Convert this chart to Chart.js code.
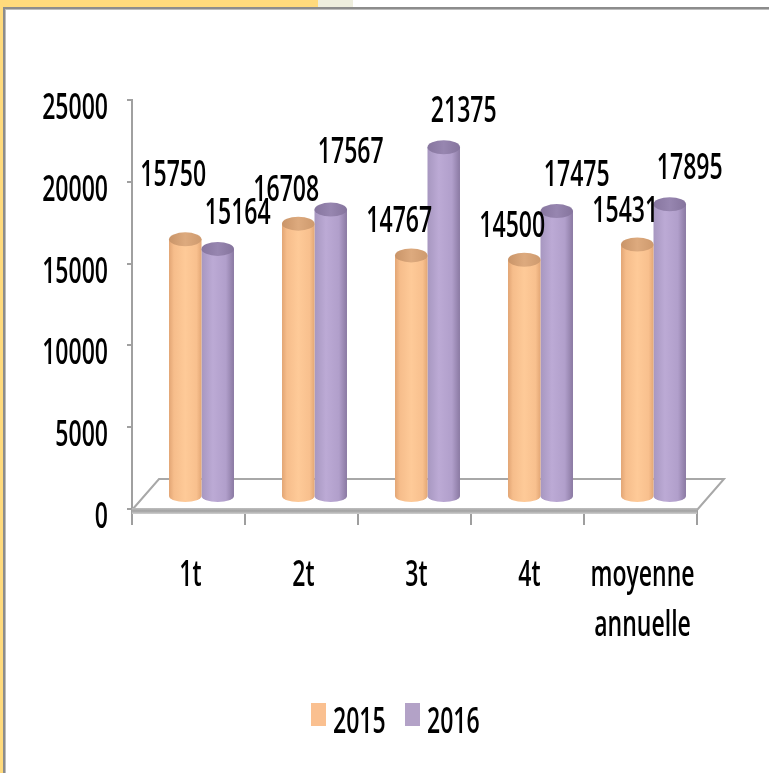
<!DOCTYPE html>
<html><head><meta charset="utf-8">
<script src="https://cdn.jsdelivr.net/npm/chart.js@4.4.1/dist/chart.umd.min.js"></script>
<style>
html,body{margin:0;padding:0;width:769px;height:773px;overflow:hidden;background:#fff;}
.d{position:absolute;}
#c{position:absolute;left:0;top:0;}
</style></head><body>
<div class="d" style="left:0;top:0;width:318px;height:7px;background:#FFDA7C"></div>
<div class="d" style="left:318px;top:0;width:35px;height:7px;background:#EEEEDE"></div>
<div class="d" style="left:0;top:0;width:3px;height:773px;background:#FFDA7C"></div>
<div class="d" style="left:3px;top:7px;width:766px;height:2px;background:#8C8C8C"></div>
<div class="d" style="left:3px;top:9px;width:766px;height:1px;background:#BDBDBD"></div>
<div class="d" style="left:3px;top:7px;width:2px;height:766px;background:#8C8C8C"></div>
<div class="d" style="left:5px;top:9px;width:1px;height:764px;background:#BDBDBD"></div>
<canvas id="c" width="769" height="773"></canvas>
<script>
const categories = [['1t'], ['2t'], ['3t'], ['4t'], ['moyenne', 'annuelle']];
const seriesNames = ['2015', '2016'];
const values2015 = [15750, 16708, 14767, 14500, 15431];
const values2016 = [15164, 17567, 21375, 17475, 17895];
const yMin = 0, yMax = 25000, yStep = 5000;

const FONT = '"Open Sans", "Liberation Sans", sans-serif';
const FW = '600';
const SX = 0.64;
const FS = 36;
const TX = 13, TY = -12; // perspective shift of the bars
const legendColors = ['#FAC090', '#B3A2C7'];

function txt(ctx, s, x, y, align) {
  ctx.save();
  ctx.translate(x, y);
  ctx.scale(SX, 1);
  ctx.font = FW + ' ' + FS + 'px ' + FONT;
  ctx.textAlign = align;
  ctx.textBaseline = 'alphabetic';
  ctx.fillStyle = '#000';
  ctx.fillText(s, 0, 0);
  ctx.restore();
}
function tw(ctx, s) {
  ctx.save();
  ctx.font = FW + ' ' + FS + 'px ' + FONT;
  const w = ctx.measureText(s).width * SX;
  ctx.restore();
  return w;
}

function sideGrad(ctx, el, di) {
  const l = el.x - el.width / 2, r = el.x + el.width / 2;
  const g = ctx.createLinearGradient(l, 0, r, 0);
  if (di === 0) {
    g.addColorStop(0, '#E2A574');
    g.addColorStop(0.15, '#F6BD8B');
    g.addColorStop(0.5, '#FECA98');
    g.addColorStop(0.85, '#F8C08E');
    g.addColorStop(1, '#E3A775');
  } else {
    g.addColorStop(0, '#A797C0');
    g.addColorStop(0.35, '#BCAAD5');
    g.addColorStop(0.75, '#B19FCB');
    g.addColorStop(1, '#8A79A2');
  }
  return g;
}
function topGrad(ctx, el, di) {
  const l = el.x - el.width / 2, r = el.x + el.width / 2;
  const g = ctx.createLinearGradient(l, 0, r, 0);
  if (di === 0) {
    g.addColorStop(0, '#C99468');
    g.addColorStop(0.5, '#DDAA7E');
    g.addColorStop(1, '#CE9A6E');
  } else {
    g.addColorStop(0, '#87769F');
    g.addColorStop(0.5, '#9786B0');
    g.addColorStop(1, '#85749D');
  }
  return g;
}

const deco = {
  id: 'deco',
  beforeDatasetsDraw(chart) {
    const ctx = chart.ctx, ca = chart.chartArea;
    const y0 = chart.scales.y.getPixelForValue(0);
    const L = ca.left, R = ca.right, dx = 27, dy = -30;
    ctx.save();
    ctx.strokeStyle = '#A8A8A8';
    ctx.lineWidth = 2;
    ctx.beginPath();
    ctx.moveTo(L, y0 + 1);
    ctx.lineTo(L + dx, y0 + dy);
    ctx.lineTo(R + dx, y0 + dy);
    ctx.lineTo(R, y0 + 1);
    ctx.stroke();
    const fg = ctx.createLinearGradient(0, y0 - 1, 0, y0 + 5);
    fg.addColorStop(0, '#BEBEBE');
    fg.addColorStop(0.5, '#A2A2A2');
    fg.addColorStop(1, '#D0D0D0');
    ctx.fillStyle = fg;
    ctx.fillRect(L, y0 - 1, R - L, 6);
    ctx.restore();
    chart.data.datasets.forEach((ds, di) => {
      chart.getDatasetMeta(di).data.forEach(el => {
        el.options = Object.assign({}, el.options, { backgroundColor: sideGrad(ctx, el, di) });
      });
    });
    ctx.save();
    ctx.translate(TX, TY);
  },
  afterDatasetsDraw(chart) {
    const ctx = chart.ctx;
    chart.data.datasets.forEach((ds, di) => {
      chart.getDatasetMeta(di).data.forEach(el => {
        const rx = el.width / 2;
        ctx.beginPath();
        ctx.ellipse(el.x, el.base, rx, 6, 0, 0, Math.PI);
        ctx.fillStyle = sideGrad(ctx, el, di);
        ctx.fill();
        ctx.beginPath();
        ctx.ellipse(el.x, el.y, rx, 7, 0, 0, Math.PI * 2);
        ctx.fillStyle = topGrad(ctx, el, di);
        ctx.fill();
      });
    });
    ctx.restore();
  },
  afterDraw(chart) {
    const ctx = chart.ctx, ys = chart.scales.y, xs = chart.scales.x;
    ys.ticks.forEach(t => {
      txt(ctx, String(t.value), 108, ys.getPixelForValue(t.value) + 19, 'right');
    });
    chart.data.labels.forEach((lab, i) => {
      const x = xs.getPixelForValue(i) + 2;
      lab.forEach((line, k) => txt(ctx, line, x, 586 + k * 50, 'center'));
    });
    const mo = chart.getDatasetMeta(0), mp = chart.getDatasetMeta(1);
    const H = 13, gap = 12;
    for (let i = 0; i < categories.length; i++) {
      const eo = mo.data[i], ep = mp.data[i];
      const so = String(chart.data.datasets[0].data[i]), sp = String(chart.data.datasets[1].data[i]);
      const lo = { s: so, x: eo.x + TX - 12, y: eo.y + TY - 36, w: tw(ctx, so) };
      const lp = { s: sp, x: ep.x + TX + 20, y: ep.y + TY - 38, w: tw(ctx, sp) };
      const xo = Math.abs(lo.x - lp.x) < (lo.w + lp.w) / 2;
      const yo = Math.abs(lo.y - lp.y) < 2 * H + gap;
      if (xo && yo) {
        if (lo.y <= lp.y) lo.y = lp.y - 2 * H - gap;
        else lp.y = lo.y - 2 * H - gap;
      }
      [lo, lp].forEach(l => txt(ctx, l.s, l.x, l.y + H, 'center'));
    }
    const lx = [311, 405], tx = [333, 427];
    seriesNames.forEach((n, k) => {
      ctx.fillStyle = legendColors[k];
      ctx.fillRect(lx[k], 703, 15, 23);
      txt(ctx, n, tx[k], 733, 'left');
    });
  }
};

new Chart(document.getElementById('c'), {
  type: 'bar',
  data: {
    labels: categories,
    datasets: [
      { label: seriesNames[0], data: values2015, backgroundColor: legendColors[0], borderWidth: 0, clip: false },
      { label: seriesNames[1], data: values2016, backgroundColor: legendColors[1], borderWidth: 0, clip: false }
    ]
  },
  options: {
    responsive: false,
    animation: false,
    devicePixelRatio: 1,
    layout: { padding: { left: 0, top: 100, right: 72, bottom: 0 } },
    datasets: { bar: { categoryPercentage: 0.575, barPercentage: 1.0 } },
    plugins: { legend: { display: false }, tooltip: { enabled: false } },
    scales: {
      x: {
        offset: true,
        ticks: { display: false },
        grid: { offset: true, drawOnChartArea: false, drawTicks: true, tickLength: 16, color: '#9E9E9E', lineWidth: 2 },
        border: { display: false },
        afterFit(s) { s.height = 264; }
      },
      y: {
        min: yMin, max: yMax,
        ticks: { display: false, stepSize: yStep },
        grid: { drawOnChartArea: false, drawTicks: true, tickLength: 5, color: '#A0A0A0', lineWidth: 2 },
        border: { display: true, color: '#A0A0A0', width: 2 },
        afterFit(s) { s.width = 132; }
      }
    }
  },
  plugins: [deco]
});
</script>
</body></html>
